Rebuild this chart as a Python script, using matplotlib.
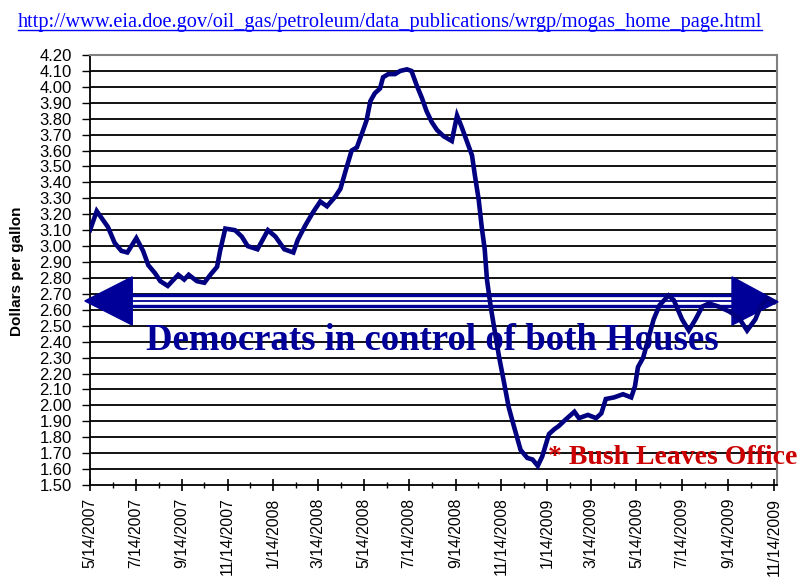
import datetime as dt
import numpy as np
import matplotlib.pyplot as plt
import matplotlib.dates as mdates
from matplotlib.patches import Polygon
from matplotlib.lines import Line2D

# weekly regular gasoline price (dollars per gallon)
dates = ["2007-05-14", "2007-05-23", "2007-06-07", "2007-06-16", "2007-06-25",
         "2007-07-03", "2007-07-15", "2007-07-24", "2007-07-31", "2007-08-09",
         "2007-08-16", "2007-08-26", "2007-09-09", "2007-09-17", "2007-09-23",
         "2007-10-04", "2007-10-14", "2007-10-22", "2007-10-31", "2007-11-04",
         "2007-11-11", "2007-11-24", "2007-12-03", "2007-12-11", "2007-12-24",
         "2008-01-07", "2008-01-17", "2008-01-29", "2008-02-10", "2008-02-16",
         "2008-02-26", "2008-03-07", "2008-03-17", "2008-03-26", "2008-04-06",
         "2008-04-13", "2008-04-21", "2008-04-28", "2008-05-05", "2008-05-12",
         "2008-05-18", "2008-05-23", "2008-05-29", "2008-06-05", "2008-06-09",
         "2008-06-16", "2008-06-25", "2008-07-02", "2008-07-11", "2008-07-17",
         "2008-07-24", "2008-07-31", "2008-08-06", "2008-08-13", "2008-08-20",
         "2008-08-29", "2008-09-09", "2008-09-16", "2008-09-22", "2008-09-29",
         "2008-10-06", "2008-10-10", "2008-10-15", "2008-10-19", "2008-10-23",
         "2008-10-26", "2008-10-31", "2008-11-06", "2008-11-11", "2008-11-18",
         "2008-11-24", "2008-12-01", "2008-12-10", "2008-12-19", "2008-12-26",
         "2009-01-02", "2009-01-08", "2009-01-17", "2009-01-24", "2009-01-30",
         "2009-02-08", "2009-02-20", "2009-02-26", "2009-03-10", "2009-03-21",
         "2009-03-28", "2009-04-03", "2009-04-14", "2009-04-26", "2009-05-07",
         "2009-05-12", "2009-05-16", "2009-05-23", "2009-05-30", "2009-06-06",
         "2009-06-14", "2009-06-26", "2009-07-03", "2009-07-14", "2009-07-23",
         "2009-08-01", "2009-08-10", "2009-08-19", "2009-09-01", "2009-09-15",
         "2009-09-28", "2009-10-09", "2009-10-20", "2009-10-27", "2009-11-05",
         "2009-11-14"]
prices = [3.10, 3.22, 3.12, 3.02, 2.97,
          2.96, 3.05, 2.97, 2.88, 2.83,
          2.78, 2.75, 2.82, 2.79, 2.82,
          2.78, 2.77, 2.82, 2.87, 2.97,
          3.11, 3.10, 3.06, 3.00, 2.98,
          3.10, 3.06, 2.98, 2.96, 3.04,
          3.13, 3.21, 3.28, 3.25, 3.31,
          3.36, 3.49, 3.60, 3.62, 3.71,
          3.79, 3.91, 3.96, 3.99, 4.06,
          4.08, 4.08, 4.10, 4.11, 4.10,
          4.01, 3.93, 3.85, 3.78, 3.73,
          3.69, 3.66, 3.82, 3.75, 3.66,
          3.57, 3.44, 3.29, 3.12, 2.98,
          2.79, 2.62, 2.45, 2.31, 2.14,
          1.99, 1.87, 1.72, 1.67, 1.66,
          1.62, 1.68, 1.82, 1.85, 1.87,
          1.91, 1.96, 1.92, 1.94, 1.92,
          1.95, 2.04, 2.05, 2.07, 2.05,
          2.12, 2.24, 2.30, 2.42, 2.54,
          2.63, 2.69, 2.66, 2.54, 2.47,
          2.54, 2.62, 2.64, 2.62, 2.59,
          2.55, 2.47, 2.54, 2.62, 2.67,
          2.65]

x = [dt.datetime.strptime(d, "%Y-%m-%d") for d in dates]

navy = "#000080"
arrow_blue = "#000099"

fig = plt.figure(figsize=(7.99, 5.79), dpi=100)
ax = fig.add_axes([90 / 799, 1 - 485 / 579, 687 / 799, 430 / 579])

# grid lines
yt = np.round(np.arange(1.50, 4.201, 0.10), 2)
for v in yt[1:-1]:
    ax.axhline(v, color="black", lw=1.3, zorder=1)

ax.plot(x, prices, color=navy, lw=3.3, zorder=5, solid_joinstyle="miter")

ax.set_ylim(1.50, 4.20)
ax.set_xlim(dt.datetime(2007, 5, 14), dt.datetime(2009, 11, 18))
ax.set_yticks(yt)
ax.set_yticklabels([f"{v:.2f}" for v in yt], fontsize=12, family="Liberation Sans")
ax.tick_params(axis="y", length=6, width=1, pad=7, color="black")

ax.xaxis.set_major_locator(mdates.MonthLocator(bymonth=[1, 3, 5, 7, 9, 11], bymonthday=14))
ax.xaxis.set_minor_locator(mdates.MonthLocator(bymonth=[2, 4, 6, 8, 10, 12], bymonthday=14))
ax.xaxis.set_major_formatter(plt.FuncFormatter(
    lambda v, p: (lambda d: f"{d.month}/{d.day}/{d.year}")(mdates.num2date(v))))
ax.tick_params(axis="x", which="major", direction="inout", length=8, width=1.2, pad=5)
ax.tick_params(axis="x", which="minor", direction="inout", length=5, width=1)
for lab in ax.get_xticklabels():
    lab.set_rotation(90)
    lab.set_fontsize(11.3)
    lab.set_family("Liberation Sans")

for s in ["top", "right"]:
    ax.spines[s].set_color("#808080")
    ax.spines[s].set_linewidth(1.5)
for s in ["left", "bottom"]:
    ax.spines[s].set_color("black")
    ax.spines[s].set_linewidth(1.3)

# double-headed arrow
ya = 0.428
hh = 0.056
ax.add_patch(Polygon([[-0.0075, ya], [0.0615, ya + hh], [0.0615, ya - hh]],
                     closed=True, transform=ax.transAxes, color=arrow_blue,
                     clip_on=False, zorder=3))
ax.add_patch(Polygon([[1.0015, ya - 0.002], [0.9345, ya + hh], [0.9345, ya - hh]],
                     closed=True, transform=ax.transAxes, color=arrow_blue,
                     clip_on=False, zorder=3))
for dy, w in [(0.0145, 2.4), (0.001, 1.3), (-0.0115, 2.4)]:
    ax.add_line(Line2D([0.06, 0.936], [ya + dy, ya + dy], transform=ax.transAxes,
                       color=arrow_blue, lw=w, clip_on=False, zorder=3))

ax.text(432 / 687 - 90 / 687, (485 - 350) / 430, "Democrats in control of both Houses",
        transform=ax.transAxes, ha="center", va="baseline", fontsize=26.5,
        fontweight="bold", family="Liberation Serif", color=arrow_blue, zorder=4)
fig.text(548 / 799, 1 - 464 / 579, "* Bush Leaves Office", ha="left", va="baseline",
         fontsize=20, fontweight="bold", family="Liberation Serif", color="#CC0000")

fig.text(17 / 799, 1 - 271 / 579, "Dollars per gallon", rotation=90, ha="center",
         va="center", fontsize=11, fontweight="bold", family="Liberation Sans")

url = fig.text(390 / 799, 1 - 27 / 579,
               "http://www.eia.doe.gov/oil_gas/petroleum/data_publications/wrgp/mogas_home_page.html",
               ha="center", va="baseline", fontsize=14.7, family="Liberation Serif", color="#0000FF")
fig.canvas.draw()
bb = url.get_window_extent()
fig.add_artist(Line2D([bb.x0 / 799, bb.x1 / 799], [1 - 30 / 579, 1 - 30 / 579],
                      transform=fig.transFigure, color="#0000FF", lw=1))

fig.savefig("out.png", dpi=100)
